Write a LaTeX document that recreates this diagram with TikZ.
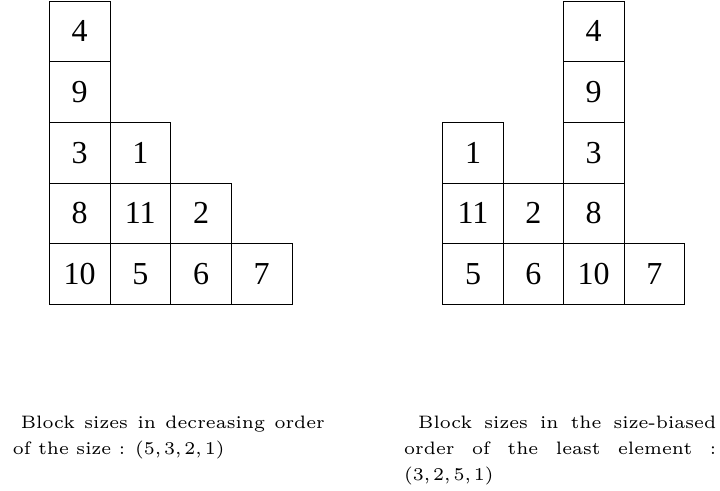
\documentclass[tikz,border=0pt]{standalone}
\usepackage{amsmath, amssymb}
\usepackage{fontspec}
\newfontfamily\cellfont{Liberation Serif}
\newfontfamily\capfont{lmroman6-regular.otf}
\usepackage{tikz}
\usetikzlibrary{positioning}
\hyphenpenalty=10000
\exhyphenpenalty=10000

\tikzset{
    cell/.style={draw, line width=0.8pt, minimum size=60.7pt, inner sep=0pt,
        font=\cellfont\fontsize{32}{32}\selectfont},
    caption/.style={anchor=north west, inner sep=0pt, text width=312pt, align=justify,
        font=\capfont\fontsize{18}{26}\selectfont}
}

\begin{document}
\begin{tikzpicture}[x=1pt, y=1pt]
    \useasboundingbox (0,0) rectangle (720,490);

    % Blöcke nach abnehmender Größe
    \foreach \cx/\cy/\n in {79.6/458.7/4, 79.6/398/9, 79.6/337.4/3, 140.3/337.4/1,
        79.6/276.7/8, 140.3/276.7/11, 201/276.7/2,
        79.6/216/10, 140.3/216/5, 201/216/6, 261.6/216/7}
        \node[cell] (L\n) at (\cx,\cy) {\raisebox{-2pt}{\n}};

    % Blöcke in größenverzerrter Reihenfolge
    \foreach \cx/\cy/\n in {593.7/458.7/4, 593.7/398/9, 473/337.4/1, 593.7/337.4/3,
        473/276.7/11, 533.3/276.7/2, 593.7/276.7/8,
        473/216/5, 533.3/216/6, 593.7/216/10, 654.3/216/7}
        \node[cell] (R\n) at (\cx,\cy) {\raisebox{-2pt}{\n}};

    % Beschriftungen
    \node[caption] (capL) at (12.7,74) {\hspace*{8pt}Block sizes in decreasing order
        of the size~: (5,\,3,\,2,\,1)};
    \node[caption] (capR) at (404,74) {\hspace*{14pt}Block sizes in the size-biased
        order of the least element~: (3,\,2,\,5,\,1)};
\end{tikzpicture}
\end{document}
